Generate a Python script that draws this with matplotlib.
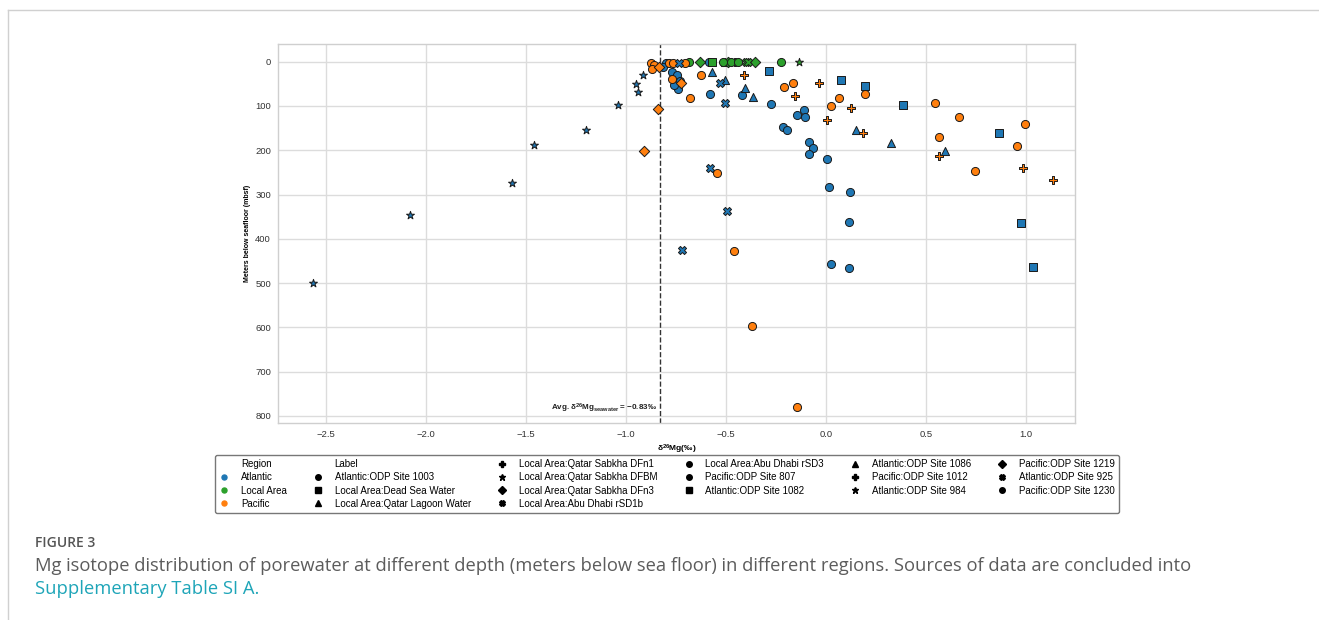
import matplotlib
matplotlib.use("Agg")
import matplotlib.pyplot as plt
from matplotlib.lines import Line2D

plt.rcParams['font.family'] = ['Liberation Sans', 'DejaVu Sans']
plt.rcParams['mathtext.fontset'] = 'custom'
plt.rcParams['mathtext.rm'] = 'Liberation Sans'
plt.rcParams['mathtext.bf'] = 'Liberation Sans:bold'
plt.rcParams['mathtext.default'] = 'bf'

# ---------------- data ----------------
region_names = ['Atlantic', 'Local Area', 'Pacific']
region_colors = {'Atlantic': '#1f77b4', 'Local Area': '#2ca02c', 'Pacific': '#ff7f0e'}

label_order = [
    'Atlantic:ODP Site 1003', 'Local Area:Dead Sea Water', 'Local Area:Qatar Lagoon Water',
    'Local Area:Qatar Sabkha DFn1', 'Local Area:Qatar Sabkha DFBM', 'Local Area:Qatar Sabkha DFn3',
    'Local Area:Abu Dhabi rSD1b', 'Local Area:Abu Dhabi rSD3', 'Pacific:ODP Site 807',
    'Atlantic:ODP Site 1082', 'Atlantic:ODP Site 1086', 'Pacific:ODP Site 1012',
    'Atlantic:ODP Site 984', 'Pacific:ODP Site 1219', 'Atlantic:ODP Site 925',
    'Pacific:ODP Site 1230',
]

# delta26Mg (permil) and depth (mbsf) per label
site1003_x = [-0.80, -0.813, -0.585, -0.768, -0.747, -0.73, -0.738, -0.758, -0.582, -0.42,
              -0.277, -0.143, -0.112, -0.107, -0.217, -0.197, -0.087, -0.067, -0.087, 0.005,
              0.013, 0.118, 0.113, 0.023, 0.113]
site1003_y = [2, 11, 1, 24, 29, 43, 62, 52, 72, 75,
              96, 120, 108, 126, 147, 154, 182, 196, 209, 220,
              284, 295, 362, 456, 467]
deadsea_x = [-0.572]
deadsea_y = [1]
lagoon_x = [-0.505]
lagoon_y = [1]
dfn1_x = [-0.455]
dfn1_y = [1]
dfbm_x = [-0.133]
dfbm_y = [1]
dfn3_x = [-0.63, -0.488, -0.355]
dfn3_y = [1, 1, 1]
rsd1b_x = [-0.40, -0.39]
rsd1b_y = [1, 1]
rsd3_x = [-0.683, -0.517, -0.473, -0.442, -0.227]
rsd3_y = [0, 1, 1, 1, 1]
site807_x = [-0.877, -0.858, -0.868, -0.783, -0.767, -0.705, -0.772, -0.678, -0.627]
site807_y = [2, 7, 17, 3, 3, 4, 39, 81, 29]
site1082_x = [-0.287, 0.073, 0.195, 0.383, 0.863, 0.973, 1.035]
site1082_y = [22, 41, 55, 98, 161, 365, 463]
site1086_x = [-0.572, -0.505, -0.407, -0.365, 0.152, 0.323, 0.593]
site1086_y = [23, 41, 59, 79, 154, 183, 202]
site1012_x = [-0.408, -0.157, -0.037, 0.123, 0.005, 0.185, 0.563, 0.985, 1.135]
site1012_y = [29, 77, 48, 105, 132, 162, 213, 241, 268]
site984_x = [-2.565, -2.08, -1.568, -1.458, -1.198, -1.038, -0.938, -0.948, -0.917]
site984_y = [499, 346, 273, 187, 154, 97, 69, 50, 30]
site1219_x = [-0.833, -0.727, -0.84, -0.908]
site1219_y = [11, 48, 107, 201]
site925_x = [-0.735, -0.53, -0.505, -0.58, -0.497, -0.72]
site925_y = [2, 48, 94, 241, 337, 425]
site1230_x = [-0.208, -0.167, 0.195, 0.063, 0.023, 0.543, 0.665, 0.993, 0.565, 0.955,
              0.745, -0.547, -0.46, -0.37, -0.147]
site1230_y = [58, 48, 72, 82, 101, 93, 124, 141, 171, 190,
              247, 252, 427, 597, 780]

avg_seawater = -0.83

x_ticks = [-2.5, -2.0, -1.5, -1.0, -0.5, 0.0, 0.5, 1.0]
y_ticks = [0, 100, 200, 300, 400, 500, 600, 700, 800]

series = {
    'Atlantic:ODP Site 1003': ('Atlantic', site1003_x, site1003_y),
    'Local Area:Dead Sea Water': ('Local Area', deadsea_x, deadsea_y),
    'Local Area:Qatar Lagoon Water': ('Local Area', lagoon_x, lagoon_y),
    'Local Area:Qatar Sabkha DFn1': ('Local Area', dfn1_x, dfn1_y),
    'Local Area:Qatar Sabkha DFBM': ('Local Area', dfbm_x, dfbm_y),
    'Local Area:Qatar Sabkha DFn3': ('Local Area', dfn3_x, dfn3_y),
    'Local Area:Abu Dhabi rSD1b': ('Local Area', rsd1b_x, rsd1b_y),
    'Local Area:Abu Dhabi rSD3': ('Local Area', rsd3_x, rsd3_y),
    'Pacific:ODP Site 807': ('Pacific', site807_x, site807_y),
    'Atlantic:ODP Site 1082': ('Atlantic', site1082_x, site1082_y),
    'Atlantic:ODP Site 1086': ('Atlantic', site1086_x, site1086_y),
    'Pacific:ODP Site 1012': ('Pacific', site1012_x, site1012_y),
    'Atlantic:ODP Site 984': ('Atlantic', site984_x, site984_y),
    'Pacific:ODP Site 1219': ('Pacific', site1219_x, site1219_y),
    'Atlantic:ODP Site 925': ('Atlantic', site925_x, site925_y),
    'Pacific:ODP Site 1230': ('Pacific', site1230_x, site1230_y),
}

# ---------------- styles ----------------
markers = {
    'Atlantic:ODP Site 1003': 'o', 'Local Area:Dead Sea Water': 's',
    'Local Area:Qatar Lagoon Water': '^', 'Local Area:Qatar Sabkha DFn1': 'P',
    'Local Area:Qatar Sabkha DFBM': '*', 'Local Area:Qatar Sabkha DFn3': 'D',
    'Local Area:Abu Dhabi rSD1b': 'X', 'Local Area:Abu Dhabi rSD3': 'o',
    'Pacific:ODP Site 807': 'o', 'Atlantic:ODP Site 1082': 's',
    'Atlantic:ODP Site 1086': '^', 'Pacific:ODP Site 1012': 'P',
    'Atlantic:ODP Site 984': '*', 'Pacific:ODP Site 1219': 'D',
    'Atlantic:ODP Site 925': 'X', 'Pacific:ODP Site 1230': 'o',
}
sizes = {'o': 34, 's': 32, '^': 34, 'P': 36, '*': 36, 'D': 28, 'X': 34}

W, H = 1319, 620
fig = plt.figure(figsize=(W / 100, H / 100), dpi=100)
fig.patch.set_facecolor('white')

ax = fig.add_axes([278 / W, 1 - 423 / H, (1075 - 278) / W, (423 - 44) / H])
ax.set_facecolor('white')
ax.grid(True, color='#dcdcdc', lw=1.0, zorder=0)
ax.set_axisbelow(True)
for sp in ax.spines.values():
    sp.set_color('#cfcfcf')
    sp.set_linewidth(1.0)

for lab in label_order:
    reg, xs, ys = series[lab]
    m = markers[lab]
    ax.scatter(xs, ys, s=sizes[m], marker=m, c=region_colors[reg],
               edgecolors='#1a1a1a', linewidths=0.7, zorder=3)

ax.axvline(avg_seawater, color='#333333', ls='--', lw=1.0, zorder=2)
ax.text(avg_seawater - 0.015, 783, 'Avg. δ$^{26}$Mg$_{seawater}$ = −0.83‰',
        ha='right', va='center', fontsize=5.8, fontweight='bold', color='#222222')

ax.set_xlim(-2.74, 1.245)
ax.set_ylim(816, -40)
ax.set_xticks(x_ticks)
ax.set_yticks(y_ticks)
ax.tick_params(axis='both', length=0, labelsize=6.8, labelcolor='#333333', pad=5)
ax.set_xlabel('δ$^{26}$Mg(‰)', fontsize=6, fontweight='bold', labelpad=3)
ax.set_ylabel('Meters below seafloor (mbsf)', fontsize=5, fontweight='bold', labelpad=3)

# ---------------- legend ----------------
handles, texts = [], []
handles.append(Line2D([], [], linestyle='none'))
texts.append('Region')
for reg in region_names:
    handles.append(Line2D([], [], linestyle='none', marker='o', ms=3.6,
                          mfc=region_colors[reg], mec=region_colors[reg]))
    texts.append(reg)
handles.append(Line2D([], [], linestyle='none'))
texts.append('Label')
for lab in label_order:
    m = markers[lab]
    ms = {'*': 5, 'D': 3.8, 'X': 4, 'P': 4.2}.get(m, 4)
    handles.append(Line2D([], [], linestyle='none', marker=m, ms=ms,
                          mfc='black', mec='black'))
    texts.append(lab)

leg = fig.legend(handles, texts, ncol=6, loc='upper left',
                 bbox_to_anchor=(215 / W, 1 - 515 / H, (1119 - 215) / W, (515 - 455) / H),
                 mode='expand', fontsize=7, frameon=True, fancybox=True,
                 borderpad=0.45, labelspacing=0.32, handlelength=1.0,
                 handletextpad=1.2, columnspacing=1.5, borderaxespad=0)
leg.get_frame().set_edgecolor('#555555')
leg.get_frame().set_linewidth(1.0)

# ---------------- page frame and caption ----------------
fig.add_artist(Line2D([8 / W, 8 / W], [0, 1 - 10 / H], color='#d0d0d0', lw=1.0))
fig.add_artist(Line2D([8 / W, 1], [1 - 10 / H, 1 - 10 / H], color='#d0d0d0', lw=1.0))

fig.text(35 / W, 1 - 543 / H, 'FIGURE 3', fontsize=10, color='#555555',
         family=['Open Sans', 'DejaVu Sans'], fontweight='semibold', va='center', ha='left')
fig.text(35 / W, 1 - 566 / H,
         'Mg isotope distribution of porewater at different depth (meters below sea floor) in '
         'different regions. Sources of data are concluded into',
         fontsize=13.2, color='#5c5c5c', family=['Open Sans', 'DejaVu Sans'],
         va='center', ha='left')
fig.text(35 / W, 1 - 589 / H, 'Supplementary Table SI A.', fontsize=13.2, color='#1ea5b8',
         family=['Open Sans', 'DejaVu Sans'], va='center', ha='left')

fig.savefig('out.png', dpi=100, facecolor='white')
